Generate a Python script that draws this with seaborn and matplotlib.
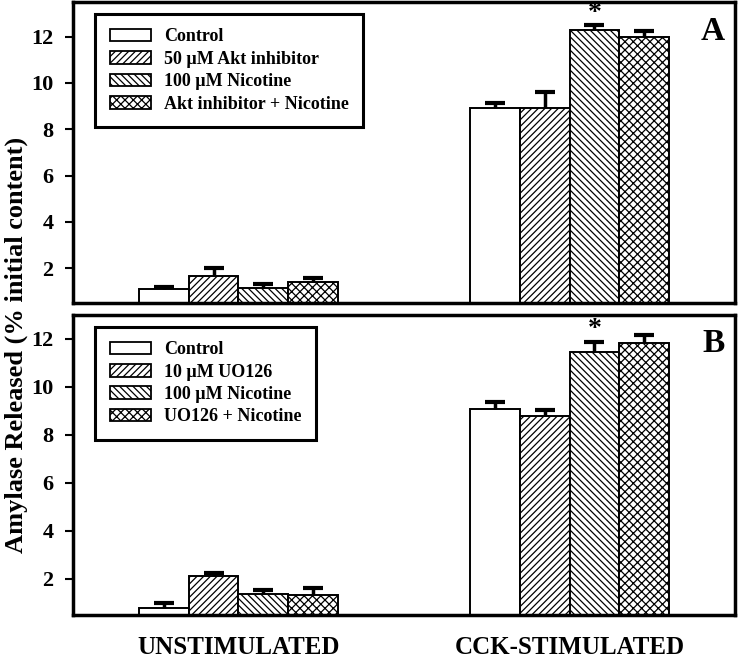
import numpy as np
import pandas as pd
import matplotlib
matplotlib.use('Agg')
import matplotlib.pyplot as plt
from matplotlib.patches import Patch
import seaborn as sns

# data
groups = ['UNSTIMULATED', 'CCK-STIMULATED']
labels_a = ['Control', '50 \u00b5M Akt inhibitor', '100 \u00b5M Nicotine', 'Akt inhibitor + Nicotine']
labels_b = ['Control', '10 \u00b5M UO126', '100 \u00b5M Nicotine', 'UO126 + Nicotine']

# panel A
unstim_a = [1.10, 1.66, 1.14, 1.38]
cck_a = [8.90, 8.94, 12.29, 12.00]
unstim_a_err = [0.08, 0.34, 0.17, 0.17]
cck_a_err = [0.25, 0.68, 0.21, 0.25]

# panel B
unstim_b = [0.80, 2.12, 1.37, 1.33]
cck_b = [9.08, 8.80, 11.46, 11.83]
unstim_b_err = [0.20, 0.13, 0.17, 0.29]
cck_b_err = [0.29, 0.25, 0.42, 0.34]

hatches = ['', '/////', '\\\\\\\\\\', 'xxxx']

sns.set_style('ticks')
plt.rcParams['font.family'] = ['Liberation Serif', 'DejaVu Serif']
plt.rcParams['font.weight'] = 'bold'
plt.rcParams['hatch.linewidth'] = 0.9
plt.rcParams['hatch.color'] = 'black'
for k in ['axes.edgecolor', 'text.color', 'xtick.color', 'ytick.color', 'axes.labelcolor']:
    plt.rcParams[k] = 'black'

fig = plt.figure(figsize=(7.44, 6.64), dpi=100)
ax_a = fig.add_axes([0.098, 0.544, 0.890, 0.453])
ax_b = fig.add_axes([0.098, 0.074, 0.890, 0.452])


def draw_panel(ax, labels, unstim, cck, unstim_err, cck_err, ylim, letter):
    df = pd.DataFrame({
        'group': [groups[0]] * 4 + [groups[1]] * 4,
        'treatment': labels + labels,
        'value': unstim + cck,
    })
    errs = list(zip(unstim_err, cck_err))
    sns.barplot(data=df, x='group', y='value', hue='treatment', order=groups,
                hue_order=labels, palette=['white'] * 4, width=0.6,
                errorbar=None, edgecolor='black', linewidth=1.4,
                legend=False, ax=ax)
    bars = list(ax.containers)[:4]
    for i, cont in enumerate(bars):
        for j, bar in enumerate(cont):
            bar.set_hatch(hatches[i])
            bar.set_facecolor('white')
            xc = bar.get_x() + bar.get_width() / 2
            top = bar.get_height()
            eb = ax.errorbar(xc, top, yerr=[[0], [errs[i][j]]], fmt='none',
                             ecolor='black', elinewidth=2.5, capsize=7,
                             capthick=3, zorder=3)
            eb[1][0].set_visible(False)  # upper-only error bar
    # asterisk over nicotine CCK bar
    nic = bars[2][1]
    ax.text(nic.get_x() + nic.get_width() / 2, nic.get_height() + errs[2][1] + 0.5,
            '*', ha='center', va='center', fontsize=20, fontweight='bold')
    ax.set_xlim(-0.5, 1.5)
    ax.set_ylim(*ylim)
    ax.set_yticks([2, 4, 6, 8, 10, 12])
    ax.set_xlabel('')
    ax.set_ylabel('')
    for s in ax.spines.values():
        s.set_visible(True)
        s.set_linewidth(2.5)
        s.set_edgecolor('black')
    ax.tick_params(axis='y', direction='out', length=6, width=1.5, labelsize=16, pad=8)
    ax.tick_params(axis='x', length=0, labelsize=18, pad=15)
    for t in ax.get_yticklabels() + ax.get_xticklabels():
        t.set_fontweight('bold')
    ax.text(0.985, 0.955, letter, transform=ax.transAxes, ha='right', va='top',
            fontsize=24, fontweight='bold')
    handles = [Patch(facecolor='white', edgecolor='black', hatch=h, linewidth=1.3)
               for h in hatches]
    leg = ax.legend(handles, labels, loc='upper left', bbox_to_anchor=(0.02, 0.99),
                    frameon=True, fancybox=False, edgecolor='black', framealpha=1,
                    prop={'weight': 'bold', 'size': 13}, handlelength=2.3,
                    handleheight=0.7, labelspacing=0.3, borderpad=0.8,
                    handletextpad=0.7)
    leg.get_frame().set_linewidth(2.2)


draw_panel(ax_a, labels_a, unstim_a, cck_a, unstim_a_err, cck_a_err,
           (0.5, 13.5), 'A')
draw_panel(ax_b, labels_b, unstim_b, cck_b, unstim_b_err, cck_b_err,
           (0.5, 13.0), 'B')
ax_a.set_xticklabels([])

fig.text(0.022, 0.48, 'Amylase Released (% initial content)', rotation=90,
         ha='center', va='center', fontsize=19, fontweight='bold')

fig.savefig('out.png', dpi=100)
